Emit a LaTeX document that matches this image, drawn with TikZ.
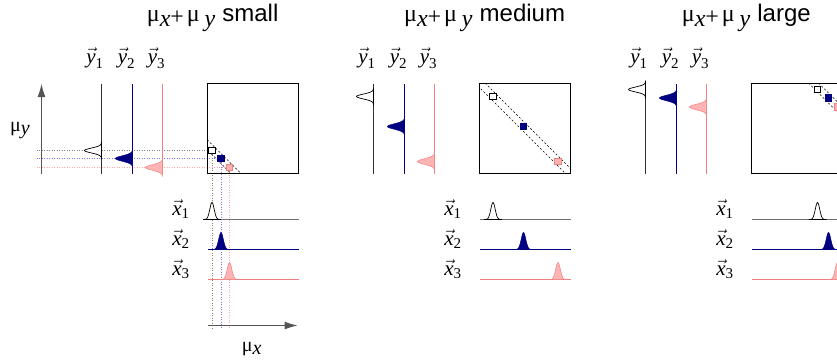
\documentclass[tikz,border=0pt]{standalone}
\usepackage{fontspec}
\newfontfamily\tnr{Liberation Serif}
\newfontfamily\hel{Liberation Sans}
\usetikzlibrary{arrows.meta}
\definecolor{navyc}{HTML}{000080}
\definecolor{pinkline}{HTML}{F08080}
\definecolor{pinkfill}{HTML}{FFB4B4}
\definecolor{gline}{HTML}{555555}
\definecolor{vline}{HTML}{303030}
\definecolor{hline}{HTML}{707070}
\definecolor{gdot}{HTML}{808080}
\definecolor{bdot}{HTML}{7878FF}
\definecolor{pdot}{HTML}{FFA8A8}
\tikzset{
  lbl/.style={font=\fontsize{21}{23}\selectfont, inner sep=0pt, anchor=base},
  ttl/.style={font=\fontsize{24}{26}\selectfont, inner sep=0pt, anchor=base west},
  axl/.style={font=\fontsize{20}{22}\selectfont, inner sep=0pt, anchor=base west},
  frame/.style={draw=black, line width=1pt},
  axis/.style={draw=gline, line width=1pt, -{Latex[length=13pt,width=8pt]}},
  band/.style={draw=black, line width=0.6pt, dash pattern=on 2pt off 2pt},
  ln1v/.style={draw=vline, line width=1pt},
  ln1h/.style={draw=hline, line width=1pt},
  ln2/.style={draw=navyc, line width=1pt},
  ln3/.style={draw=pinkline, line width=1pt},
  pk1/.style={draw=black, fill=white, line width=0.7pt},
  pk2/.style={draw=navyc, fill=navyc, line width=0.5pt},
  pk3/.style={draw=pinkline, fill=pinkfill, line width=0.5pt},
  sq/.style={rectangle, inner sep=0pt, minimum size=6.5pt, line width=0.7pt},
  sq1/.style={sq, draw=black, fill=white},
  sq2/.style={sq, draw=navyc, fill=navyc},
  sq3/.style={sq, draw=pinkline, fill=pinkfill},
  dot1/.style={draw=gdot, line width=0.6pt, dash pattern=on 1pt off 1.5pt},
  dot2/.style={draw=bdot, line width=0.6pt, dash pattern=on 1pt off 1.5pt},
  dot3/.style={draw=pdot, line width=0.6pt, dash pattern=on 1pt off 1.5pt},
}
\newcommand\muxy{{\tnr μ\raisebox{-0.2em}{\itshape x}\raisebox{-0.1em}{+}\hspace{0.12em}μ\hspace{0.2em}\raisebox{-0.2em}{\itshape y}}}
\newcommand\vlab[2]{$\vec{\mbox{\tnr\itshape #1}}_{\mbox{\tnr\fontsize{15}{17}\selectfont #2}}$}
\newcommand\ypk[4]{\draw[#4] plot[domain=-9:9,samples=41] ({#1-17*exp(-(\x)^2/(2*#3*#3))},{#2+\x}) -- cycle;}
\newcommand\xpk[4]{\draw[#4] plot[domain=-9:9,samples=41] ({#1+\x},{#2-17*exp(-(\x)^2/(2*#3*#3))}) -- cycle;}
% #1 shift, #2-#7 points (panel-1 frame), #8 prefix
\newcommand\panelat[8]{%
\begin{scope}[xshift=#1pt]
  \coordinate (#8bl) at (207.5,173.5);
  \coordinate (#8tr) at (298.5,83.5);
  \pgfmathsetmacro\sA{#4-207.5+173.5-#5-5}
  \pgfmathsetmacro\sB{#4-207.5+173.5-#5+5}
  \begin{scope}
    \clip (#8bl) rectangle (#8tr);
    \coordinate (#8a1) at ({207.5+\sA+10},183.5);
    \coordinate (#8a2) at ({207.5-10},{173.5-\sA-10});
    \coordinate (#8b1) at ({207.5+\sB+10},183.5);
    \coordinate (#8b2) at ({207.5-10},{173.5-\sB-10});
    \draw[band] (#8a1) -- (#8a2);
    \draw[band] (#8b1) -- (#8b2);
  \end{scope}
  \draw[frame] (#8bl) rectangle (#8tr);
  \node[sq1] (#8s1) at (#2,#3) {};
  \node[sq2] (#8s2) at (#4,#5) {};
  \node[sq3] (#8s3) at (#6,#7) {};
  \draw[ln1v] (101.5,83.5) -- (101.5,173.5);
  \draw[ln2] (132.5,83.5) -- (132.5,173.5);
  \draw[ln3] (162.5,83.5) -- (162.5,173.5);
  \ypk{101.5}{#3}{2.4}{pk1}
  \ypk{132.5}{#5}{2.7}{pk2}
  \ypk{162.5}{#7}{2.7}{pk3}
  \node[lbl] (#8ly1) at (95,63) {\vlab{y}{1}};
  \node[lbl] (#8ly2) at (126.5,63) {\vlab{y}{2}};
  \node[lbl] (#8ly3) at (156.5,63) {\vlab{y}{3}};
  \draw[ln1h] (207.5,219.5) -- (298.5,219.5);
  \draw[ln2] (207.5,249.5) -- (298.5,249.5);
  \draw[ln3] (207.5,279.5) -- (298.5,279.5);
  \xpk{#2}{219.5}{2.2}{pk1}
  \xpk{#4}{249.5}{2.3}{pk2}
  \xpk{#6}{279.5}{2.3}{pk3}
  \node[lbl] (#8lx1) at (181,215) {\vlab{x}{1}};
  \node[lbl] (#8lx2) at (181,245) {\vlab{x}{2}};
  \node[lbl] (#8lx3) at (181,275) {\vlab{x}{3}};
\end{scope}}
\begin{document}
\begin{tikzpicture}[x=1pt,y=-1pt]
\clip (0,0) rectangle (837,360);
\coordinate (g1) at (212,150.5);
\coordinate (g2) at (221,158.5);
\coordinate (g3) at (229.5,167.5);
\coordinate (h1) at (36.5,150.5);
\coordinate (h2) at (36.5,158.5);
\coordinate (h3) at (36.5,167.5);
\coordinate (v1) at (212,328);
\coordinate (v2) at (221,328);
\coordinate (v3) at (229.5,328);
\draw[dot1] (h1) -- (g1) -- (v1);
\draw[dot2] (h2) -- (g2) -- (v2);
\draw[dot3] (h3) -- (g3) -- (v3);
\coordinate (ya0) at (41.5,173.5);
\coordinate (ya1) at (41.5,84);
\draw[axis] (ya0) -- (ya1);
\coordinate (xa0) at (207.5,325.5);
\coordinate (xa1) at (297.5,325.5);
\draw[axis] (xa0) -- (xa1);
\node[axl] (muy) at (10,131) {\tnr μ\raisebox{-0.15em}{\itshape y}};
\node[axl] (mux) at (241.7,351.5) {\tnr μ\raisebox{-0.15em}{\itshape x}};
\panelat{0}{212}{150.5}{221}{158.5}{229.5}{167.5}{p1}
\panelat{272}{221}{96.5}{251.5}{126.5}{286}{161.5}{p2}
\panelat{544}{273.5}{89.5}{284.5}{98}{293.5}{107}{p3}
\node[ttl] (t1) at (146.7,21.7) {\muxy\ {\hel small}};
\node[ttl] (t2) at (404,21.7) {\muxy\ {\hel medium}};
\node[ttl] (t3) at (681.7,21.7) {\muxy\ {\hel large}};
\end{tikzpicture}
\end{document}
